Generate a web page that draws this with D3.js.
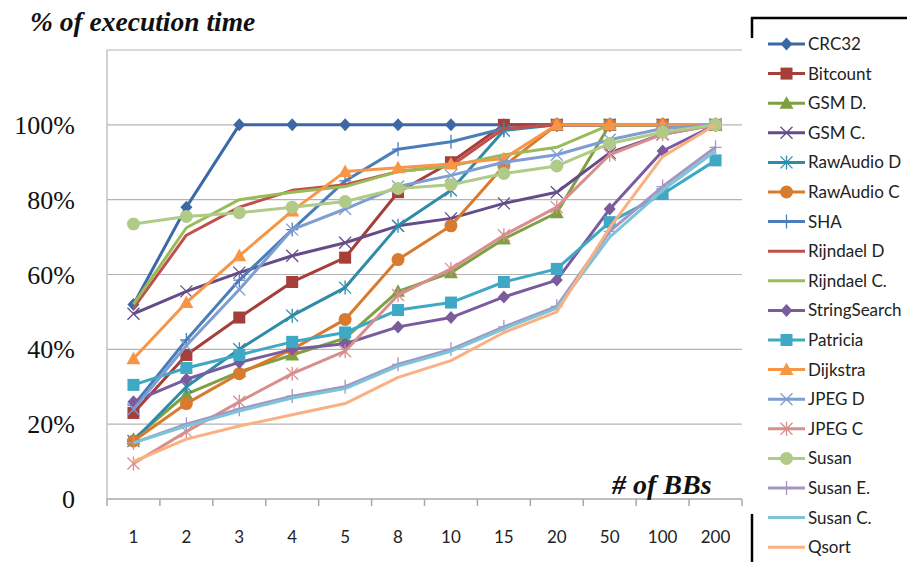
<!DOCTYPE html>
<html>
<head>
<meta charset="utf-8">
<script src="https://cdn.jsdelivr.net/npm/d3@7"></script>
<style>
  html, body { margin: 0; padding: 0; background: #fff; }
  svg { display: block; }
</style>
</head>
<body>
<svg id="chart" width="907" height="562"></svg>
<script>
// ---------- DATA ----------
const categories = ["1","2","3","4","5","8","10","15","20","50","100","200"];
const yTickValues = [0, 20, 40, 60, 80, 100];
const yTickLabels = ["0", "20%", "40%", "60%", "80%", "100%"];
const seriesNames = ["CRC32","Bitcount","GSM D.","GSM C.","RawAudio D","RawAudio C","SHA","Rijndael D","Rijndael C.","StringSearch","Patricia","Dijkstra","JPEG D","JPEG C","Susan","Susan E.","Susan C.","Qsort"];

const crc32        = [52, 78, 100, 100, 100, 100, 100, 100, 100, 100, 100, 100];
const bitcount     = [23, 38.5, 48.5, 58, 64.5, 82, 90, 100, 100, 100, 100, 100];
const gsmD         = [16, 28, 34, 38.5, 43, 55.5, 60.5, 69.5, 76.5, 100, 100, 100];
const gsmC         = [49.5, 55.5, 60.5, 65, 68.5, 73, 75, 79, 82, 92.5, 97.5, 100];
const rawAudioD    = [15.5, 30, 40, 49, 56.5, 73, 82.5, 98.5, 100, 100, 100, 100];
const rawAudioC    = [15.5, 25.5, 33.5, 40, 48, 64, 73, 89, 100, 100, 100, 100];
const sha          = [25, 42.5, 58.5, 72, 85, 93.5, 95.5, 99, 100, 100, 100, 100];
const rijndaelD    = [51, 70.5, 78, 82.5, 84, 87.5, 89, 99, 100, 100, 100, 100];
const rijndaelC    = [52, 72.5, 80, 82, 83.5, 87.5, 89, 92, 94, 100, 100, 100];
const stringSearch = [26, 32, 36.5, 40, 41.5, 46, 48.5, 54, 58.5, 77.5, 93, 100];
const patricia     = [30.5, 35, 38.5, 42, 44.5, 50.5, 52.5, 58, 61.5, 74, 81.5, 90.5];
const dijkstra     = [37.5, 52.5, 65, 77, 87.5, 88.5, 89.5, 91, 100, 100, 100, 100];
const jpegD        = [24, 41, 56, 72, 77.5, 83.5, 86.5, 90, 92, 96, 99, 100];
const jpegC        = [9.5, 18, 26, 33.5, 39.5, 54.5, 61.5, 70.5, 78, 92, 97.5, 100];
const susan        = [73.5, 75.5, 76.5, 78, 79.5, 83, 84, 87, 89, 95, 98, 100];
const susanE       = [15, 20, 24, 27.5, 30, 36, 40, 46, 51.5, 71.5, 83.5, 94];
const susanC       = [15, 19.5, 23.5, 27, 29.5, 35.5, 39.5, 45.5, 51, 70, 82.5, 93];
const qsort        = [10, 16, 19.5, 22.5, 25.5, 32.5, 37, 44.5, 50, 72.5, 91.5, 100];

const seriesValues = [crc32, bitcount, gsmD, gsmC, rawAudioD, rawAudioC, sha, rijndaelD, rijndaelC,
  stringSearch, patricia, dijkstra, jpegD, jpegC, susan, susanE, susanC, qsort];

// ---------- STYLE ----------
const colors = ["#3C69A6","#A63E3A","#7E9F42","#654C88","#2F8CA8","#D97B2E","#4A7EBB","#C0504D","#9BBB59",
  "#7A5C9E","#3FA8C4","#F79646","#7E9DD0","#D88E8C","#AFCB87","#A396C3","#7EC4D8","#F9B183"];
const markers = ["diamond","square","triangle","x","star","circle","plus","none","none",
  "diamond","square","triangle","x","star","circle","plus","none","none"];

const svg = d3.select("#chart");
const plot = { left: 107, right: 742, top: 50, bottom: 499 };

const x = d3.scaleBand().domain(categories).range([plot.left, plot.right]);
const xc = c => x(c) + x.bandwidth() / 2;
const y = d3.scaleLinear().domain([0, 120]).range([plot.bottom, plot.top]);

// gridlines
const gridVals = [20, 40, 60, 80, 100, 120];
svg.append("g").selectAll("line").data(gridVals).join("line")
  .attr("x1", plot.left).attr("x2", plot.right)
  .attr("y1", d => y(d)).attr("y2", d => y(d))
  .attr("stroke", "#B4B4B4").attr("stroke-width", 1.2);

// y axis line
svg.append("line").attr("x1", plot.left).attr("x2", plot.left)
  .attr("y1", plot.top).attr("y2", plot.bottom)
  .attr("stroke", "#B4B4B4").attr("stroke-width", 1.2);

// x axis with ticks between categories
const xAxisG = svg.append("g").attr("transform", `translate(0,${plot.bottom})`);
xAxisG.append("line").attr("x1", plot.left).attr("x2", plot.right)
  .attr("stroke", "#A8A8A8").attr("stroke-width", 1.5);
const tickPos = categories.map(c => x(c)).concat([plot.right]);
xAxisG.selectAll("line.tk").data(tickPos).join("line").attr("class", "tk")
  .attr("x1", d => d).attr("x2", d => d).attr("y1", 0).attr("y2", 7)
  .attr("stroke", "#A8A8A8").attr("stroke-width", 1.5);
xAxisG.selectAll("text").data(categories).join("text")
  .attr("x", d => xc(d)).attr("y", 44)
  .attr("text-anchor", "middle")
  .attr("font-family", "Lato, 'Open Sans', sans-serif").attr("font-size", 17)
  .attr("fill", "#222")
  .text(d => d);

// y tick labels
svg.append("g").selectAll("text").data(yTickValues).join("text")
  .attr("x", 75).attr("y", d => y(d) + 9)
  .attr("text-anchor", "end")
  .attr("font-family", "'Liberation Serif', 'Times New Roman', serif").attr("font-size", 26)
  .attr("fill", "#111")
  .text((d, i) => yTickLabels[i]);

// marker drawing
function drawMarker(g, type, color, cx, cy) {
  const s = 6;
  if (type === "diamond") {
    g.append("path").attr("d", `M${cx},${cy - 6.5}L${cx + 6},${cy}L${cx},${cy + 6.5}L${cx - 6},${cy}Z`).attr("fill", color);
  } else if (type === "square") {
    g.append("rect").attr("x", cx - 6).attr("y", cy - 6).attr("width", 12).attr("height", 12).attr("fill", color);
  } else if (type === "triangle") {
    g.append("path").attr("d", `M${cx},${cy - 7}L${cx + 7},${cy + 5.5}L${cx - 7},${cy + 5.5}Z`).attr("fill", color);
  } else if (type === "circle") {
    g.append("circle").attr("cx", cx).attr("cy", cy).attr("r", 6.5).attr("fill", color);
  } else if (type === "x") {
    g.append("path").attr("d", `M${cx - s},${cy - s}L${cx + s},${cy + s}M${cx - s},${cy + s}L${cx + s},${cy - s}`)
      .attr("stroke", color).attr("stroke-width", 1.3).attr("fill", "none");
  } else if (type === "star") {
    g.append("path").attr("d", `M${cx - s},${cy - s}L${cx + s},${cy + s}M${cx - s},${cy + s}L${cx + s},${cy - s}M${cx},${cy - s - 1}L${cx},${cy + s + 1}`)
      .attr("stroke", color).attr("stroke-width", 1.3).attr("fill", "none");
  } else if (type === "plus") {
    g.append("path").attr("d", `M${cx - s},${cy}L${cx + s},${cy}M${cx},${cy - s - 1}L${cx},${cy + s + 1}`)
      .attr("stroke", color).attr("stroke-width", 1.3).attr("fill", "none");
  }
}

const line = d3.line().x((d, i) => xc(categories[i])).y(d => y(d));
const seriesG = svg.append("g");
seriesValues.forEach((vals, si) => {
  const g = seriesG.append("g");
  g.append("path").datum(vals).attr("d", line)
    .attr("fill", "none").attr("stroke", colors[si]).attr("stroke-width", 3)
    .attr("stroke-linejoin", "round");
  vals.forEach((v, i) => drawMarker(g, markers[si], colors[si], xc(categories[i]), y(v)));
});

// titles
svg.append("text").attr("x", 30).attr("y", 31)
  .attr("font-family", "'Liberation Serif', 'Times New Roman', serif")
  .attr("font-size", 27.5).attr("font-weight", "bold").attr("font-style", "italic")
  .attr("fill", "#111").text("% of execution time");
svg.append("text").attr("x", 612).attr("y", 494)
  .attr("font-family", "'Liberation Serif', 'Times New Roman', serif")
  .attr("font-size", 28).attr("font-weight", "bold").attr("font-style", "italic")
  .attr("fill", "#111").text("# of BBs");

// legend frame fragments
svg.append("path").attr("d", "M752,38L752,18L907,18").attr("fill", "none").attr("stroke", "#000").attr("stroke-width", 2.5);
svg.append("line").attr("x1", 752).attr("x2", 752).attr("y1", 514).attr("y2", 562).attr("stroke", "#000").attr("stroke-width", 2.5);

// legend
const legG = svg.append("g");
seriesNames.forEach((name, i) => {
  const cy = 44 + i * 29.6;
  legG.append("line").attr("x1", 768).attr("x2", 805).attr("y1", cy).attr("y2", cy)
    .attr("stroke", colors[i]).attr("stroke-width", 3);
  drawMarker(legG, markers[i], colors[i], 786.5, cy);
  legG.append("text").attr("x", 808).attr("y", cy + 6)
    .attr("font-family", "Lato, 'Open Sans', sans-serif").attr("font-size", 17)
    .attr("fill", "#222").text(name);
});
</script>
</body>
</html>
